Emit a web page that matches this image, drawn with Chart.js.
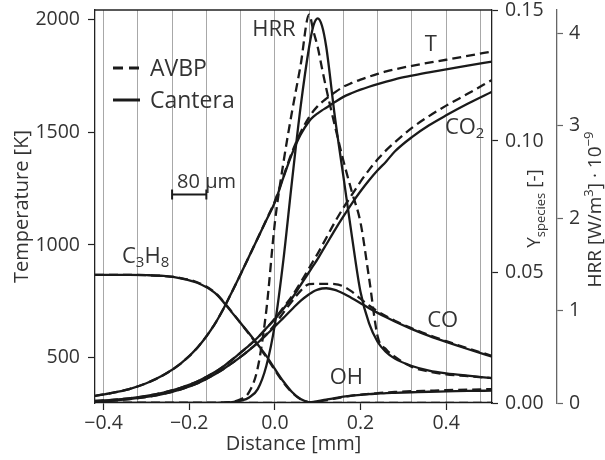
<!DOCTYPE html>
<html>
<head>
<meta charset="utf-8">
<script src="https://cdn.jsdelivr.net/npm/chart.js@4/dist/chart.umd.min.js"></script>
<style>
  html, body { margin: 0; padding: 0; background: #fff; }
  #wrap { width: 605px; height: 460px; }
</style>
</head>
<body>
<div id="wrap"><canvas id="flame" width="605" height="460"></canvas></div>
<script>
// Distance through the flame [mm]
const DIST = [-0.42, -0.38, -0.34, -0.30, -0.26, -0.22, -0.18, -0.14, -0.12, -0.10, -0.08, -0.06, -0.04, -0.02, 0.00, 0.02, 0.04, 0.06, 0.08, 0.09, 0.10, 0.11, 0.12, 0.14, 0.16, 0.18, 0.20, 0.22, 0.24, 0.26, 0.28, 0.32, 0.36, 0.40, 0.45, 0.507];

// Temperature [K]
const T_CANTERA = [330, 343, 360, 386, 422, 473, 546, 650, 717, 792, 870, 950, 1030, 1110, 1190, 1300, 1405, 1490, 1550, 1570, 1585, 1598, 1610, 1635, 1658, 1675, 1690, 1703, 1715, 1726, 1736, 1752, 1767, 1780, 1797, 1815];
const T_AVBP    = [330, 343, 360, 386, 422, 473, 546, 650, 717, 792, 870, 950, 1030, 1112, 1195, 1305, 1412, 1500, 1568, 1595, 1617, 1635, 1650, 1678, 1703, 1720, 1735, 1748, 1760, 1771, 1780, 1796, 1810, 1823, 1840, 1860];

// Species mass fractions [-]
const CO2_CANTERA = [0.0008, 0.0012, 0.0018, 0.0027, 0.0040, 0.0058, 0.0083, 0.0118, 0.0140, 0.0165, 0.0192, 0.0220, 0.0250, 0.0285, 0.0320, 0.0360, 0.0400, 0.0450, 0.0500, 0.0525, 0.0550, 0.0578, 0.0605, 0.0660, 0.0712, 0.0762, 0.0808, 0.0850, 0.0888, 0.0922, 0.0960, 0.1015, 0.1060, 0.1098, 0.1142, 0.1188];
const CO2_AVBP    = [0.0008, 0.0012, 0.0018, 0.0027, 0.0040, 0.0058, 0.0083, 0.0118, 0.0140, 0.0165, 0.0192, 0.0220, 0.0250, 0.0285, 0.0322, 0.0365, 0.0408, 0.0460, 0.0515, 0.0543, 0.0570, 0.0600, 0.0630, 0.0690, 0.0745, 0.0795, 0.0845, 0.0890, 0.0930, 0.0965, 0.0995, 0.1050, 0.1095, 0.1135, 0.1180, 0.1233];

const CO_CANTERA = [0.0005, 0.0009, 0.0015, 0.0023, 0.0035, 0.0052, 0.0076, 0.0110, 0.0130, 0.0152, 0.0176, 0.0202, 0.0230, 0.0260, 0.0292, 0.0325, 0.0358, 0.0390, 0.0415, 0.0426, 0.0433, 0.0437, 0.0438, 0.0432, 0.0418, 0.0400, 0.0381, 0.0362, 0.0344, 0.0327, 0.0311, 0.0282, 0.0256, 0.0233, 0.0206, 0.0177];
const CO_AVBP    = [0.0005, 0.0009, 0.0015, 0.0023, 0.0035, 0.0052, 0.0076, 0.0110, 0.0130, 0.0152, 0.0176, 0.0202, 0.0230, 0.0262, 0.0300, 0.0345, 0.0388, 0.0428, 0.0454, 0.0455, 0.0455, 0.0455, 0.0455, 0.0454, 0.0445, 0.0425, 0.0398, 0.0372, 0.0350, 0.0331, 0.0314, 0.0285, 0.0259, 0.0236, 0.0209, 0.0180];

const C3H8_CANTERA = [0.0489, 0.0489, 0.0489, 0.0488, 0.0485, 0.0476, 0.0458, 0.0420, 0.0385, 0.0345, 0.0305, 0.0265, 0.0223, 0.0180, 0.0130, 0.0082, 0.0042, 0.0015, 0.0002, 0, 0, 0, 0, 0, 0, 0, 0, 0, 0, 0, 0, 0, 0, 0, 0, 0];
const C3H8_AVBP    = [0.0489, 0.0489, 0.0489, 0.0488, 0.0485, 0.0477, 0.0460, 0.0422, 0.0387, 0.0347, 0.0305, 0.0263, 0.0220, 0.0175, 0.0125, 0.0078, 0.0040, 0.0014, 0.0002, 0, 0, 0, 0, 0, 0, 0, 0, 0, 0, 0, 0, 0, 0, 0, 0, 0];

const OH_CANTERA = [0, 0, 0, 0, 0, 0, 0, 0, 0, 0, 0, 0, 0, 0, 0, 0, 0, 0, 0.0002, 0.0004, 0.0007, 0.0010, 0.0013, 0.0019, 0.0024, 0.0028, 0.0031, 0.0034, 0.0036, 0.0038, 0.0039, 0.0041, 0.0043, 0.0044, 0.0046, 0.0047];
const OH_AVBP    = [0, 0, 0, 0, 0, 0, 0, 0, 0, 0, 0, 0, 0, 0, 0, 0, 0, 0, 0.0001, 0.0003, 0.0005, 0.0008, 0.0011, 0.0017, 0.0023, 0.0028, 0.0032, 0.0035, 0.0038, 0.0040, 0.0042, 0.0045, 0.0047, 0.0049, 0.0051, 0.0053];

// Heat release rate [W/m^3 * 1e-9]
const HRR_CANTERA = [0, 0, 0, 0, 0, 0, 0, 0, 0.005, 0.01, 0.025, 0.06, 0.15, 0.40, 0.85, 1.55, 2.40, 3.20, 3.85, 4.08, 4.16, 4.08, 3.85, 3.10, 2.45, 1.80, 1.20, 0.86, 0.66, 0.55, 0.48, 0.40, 0.35, 0.32, 0.295, 0.27];
const HRR_AVBP    = [0, 0, 0, 0, 0, 0, 0, 0, 0.005, 0.012, 0.04, 0.12, 0.38, 1.00, 1.95, 2.60, 3.15, 3.65, 4.20, 4.02, 3.85, 3.62, 3.40, 3.00, 2.62, 2.28, 1.95, 1.35, 0.72, 0.58, 0.50, 0.39, 0.34, 0.31, 0.29, 0.27];

// Axis ticks
const X_TICKS = [-0.4, -0.2, 0.0, 0.2, 0.4];
const X_GRID = [-0.40, -0.32, -0.24, -0.16, -0.08, 0.00, 0.08, 0.16, 0.24, 0.32, 0.40, 0.48];
const T_TICKS = [500, 1000, 1500, 2000];
const Y_TICKS = [0.00, 0.05, 0.10, 0.15];
const HRR_TICKS = [0, 1, 2, 3, 4];

// Models and the quantities drawn for each
const MODELS = [
  { name: 'AVBP', dash: [9, 5] },
  { name: 'Cantera', dash: [] }
];
const SERIES = [
  { axis: 'yT', AVBP: T_AVBP, Cantera: T_CANTERA },
  { axis: 'yS', AVBP: CO2_AVBP, Cantera: CO2_CANTERA },
  { axis: 'yS', AVBP: CO_AVBP, Cantera: CO_CANTERA },
  { axis: 'yS', AVBP: C3H8_AVBP, Cantera: C3H8_CANTERA },
  { axis: 'yS', AVBP: OH_AVBP, Cantera: OH_CANTERA },
  { axis: 'yH', AVBP: HRR_AVBP, Cantera: HRR_CANTERA }
];

// In-plot curve names, anchored in (distance, temperature) units
const CURVE_LABELS = [
  { parts: [['HRR', 0]], x: -0.002, t: 1955, align: 'center' },
  { parts: [['T', 0]], x: 0.364, t: 1888, align: 'center' },
  { parts: [['CO', 0], ['2', 1]], x: 0.397, t: 1520, align: 'left' },
  { parts: [['C', 0], ['3', 1], ['H', 0], ['8', 1]], x: -0.357, t: 947, align: 'left' },
  { parts: [['CO', 0]], x: 0.392, t: 662, align: 'center' },
  { parts: [['OH', 0]], x: 0.167, t: 409, align: 'center' }
];

// 80 µm scale bar between two grid lines
const SCALE_BAR = { from: -0.24, to: -0.16, t: 1224, text: '80 µm' };

const INK = '#1a1a1a';
const TEXT = '#333333';
const FAMILY = '"Open Sans", "Noto Sans", sans-serif';

const fmtMinus = s => s.replace('-', '\u2212');

const datasets = [];
for (const s of SERIES) {
  for (const m of MODELS) {
    datasets.push({
      label: m.name,
      data: DIST.map((d, i) => ({ x: d, y: s[m.name][i] })),
      yAxisID: s.axis,
      xAxisID: 'x',
      borderColor: INK,
      borderWidth: 2.3,
      borderDash: m.dash,
      pointRadius: 0,
      fill: false,
      cubicInterpolationMode: 'monotone'
    });
  }
}

const fixTicks = list => axis => { axis.ticks = list.map(v => ({ value: v })); };
// fixed box sizes so the plot area sits where it should
const sizeBox = (w, h) => ax => {
  if (w !== null) ax.width = w;
  if (h !== null) ax.height = h;
  ax.paddingTop = 0; ax.paddingBottom = 0; ax.paddingLeft = 0; ax.paddingRight = 0;
};

const frame = {
  id: 'frame',
  afterDatasetsDraw(chart) {
    const { ctx, chartArea: a } = chart;
    ctx.save();
    ctx.strokeStyle = '#222';
    ctx.lineWidth = 1.3;
    ctx.beginPath();
    ctx.moveTo(a.left, a.top);
    ctx.lineTo(a.right, a.top);
    ctx.stroke();
    ctx.restore();
  }
};

function drawParts(ctx, parts, px, py, align, size, subSize, subShift) {
  let w = 0;
  for (const [txt, sub] of parts) {
    ctx.font = `${sub ? subSize : size}px ${FAMILY}`;
    w += ctx.measureText(txt).width;
  }
  let cx = align === 'center' ? px - w / 2 : px;
  for (const [txt, sub] of parts) {
    ctx.font = `${sub ? subSize : size}px ${FAMILY}`;
    ctx.fillText(txt, cx, py + (sub ? subShift : 0));
    cx += ctx.measureText(txt).width;
  }
}

const annotations = {
  id: 'annotations',
  afterDraw(chart) {
    const { ctx, chartArea: a, scales: { x, yT } } = chart;
    ctx.save();
    ctx.fillStyle = TEXT;
    ctx.textAlign = 'left';
    ctx.textBaseline = 'middle';

    // curve names
    for (const lab of CURVE_LABELS) {
      drawParts(ctx, lab.parts, x.getPixelForValue(lab.x), yT.getPixelForValue(lab.t),
        lab.align, 22, 15, 6);
    }

    // legend
    const lx = a.left + 18, ly = a.top + 58;
    MODELS.forEach((m, i) => {
      const y = ly + i * 32;
      ctx.strokeStyle = INK;
      ctx.lineWidth = 3;
      ctx.setLineDash(m.dash.length ? [10, 6] : []);
      ctx.beginPath();
      ctx.moveTo(lx, y);
      ctx.lineTo(lx + 27, y);
      ctx.stroke();
      ctx.setLineDash([]);
      ctx.font = `23px ${FAMILY}`;
      ctx.fillText(m.name, lx + 37, y + 1);
    });

    // scale bar
    const bx0 = x.getPixelForValue(SCALE_BAR.from);
    const bx1 = x.getPixelForValue(SCALE_BAR.to);
    const by = yT.getPixelForValue(SCALE_BAR.t);
    ctx.strokeStyle = INK;
    ctx.lineWidth = 2;
    ctx.beginPath();
    ctx.moveTo(bx0, by); ctx.lineTo(bx1, by);
    ctx.moveTo(bx0, by - 5); ctx.lineTo(bx0, by + 5);
    ctx.moveTo(bx1, by - 5); ctx.lineTo(bx1, by + 5);
    ctx.stroke();
    ctx.font = `20px ${FAMILY}`;
    ctx.fillText(SCALE_BAR.text, bx0 + 5, by - 12);

    // right-hand axis titles, rotated, with sub/superscripts
    const midY = (a.top + a.bottom) / 2;
    ctx.textBaseline = 'alphabetic';
    ctx.save();
    ctx.translate(540, midY + 2);
    ctx.rotate(-Math.PI / 2);
    drawParts(ctx, [['Y', 0], ['species', 1], [' [-]', 0]], 0, 0, 'center', 19, 13, 5);
    ctx.restore();

    ctx.save();
    ctx.translate(601, midY + 3);
    ctx.rotate(-Math.PI / 2);
    drawParts(ctx, [['HRR [W/m', 0], ['3', 1], ['] \u00b7 10', 0], ['\u22129', 1]], 0, 0, 'center', 19, 13, -8);
    ctx.restore();

    ctx.restore();
  }
};

const tickFont = { family: FAMILY, size: 19.5 };
const titleFont = { family: FAMILY, size: 20 };

new Chart(document.getElementById('flame'), {
  type: 'line',
  data: { datasets },
  plugins: [frame, annotations],
  options: {
    responsive: false,
    animation: false,
    devicePixelRatio: 1,
    layout: { padding: { top: 10, left: 0, right: 0, bottom: 0 }, autoPadding: false },
    plugins: { legend: { display: false }, tooltip: { enabled: false } },
    elements: { line: { tension: 0 } },
    scales: {
      x: {
        type: 'linear', position: 'bottom', min: -0.42, max: 0.507,
        afterBuildTicks: fixTicks(X_TICKS),
        afterFit: sizeBox(null, 57),
        ticks: { autoSkip: false, maxRotation: 0, font: tickFont, color: TEXT, padding: 2,
                 callback: v => fmtMinus(Number(v).toFixed(1)) },
        grid: { drawOnChartArea: false, drawTicks: true, tickLength: 7, tickColor: '#222', tickWidth: 1.2 },
        border: { display: true, color: '#222', width: 1.3 },
        title: { display: true, text: 'Distance [mm]', font: titleFont, color: TEXT, padding: { top: 0, bottom: 4 } }
      },
      xGrid: {
        type: 'linear', position: 'bottom', min: -0.42, max: 0.507,
        afterBuildTicks: fixTicks(X_GRID),
        afterFit: sizeBox(null, 0),
        ticks: { display: false },
        grid: { drawOnChartArea: true, drawTicks: false, color: '#a8a8a8', lineWidth: 1 },
        border: { display: false }
      },
      yT: {
        type: 'linear', position: 'left', min: 298, max: 2044,
        afterBuildTicks: fixTicks(T_TICKS),
        afterFit: sizeBox(95, null),
        ticks: { font: tickFont, color: TEXT, padding: 8, callback: v => String(v) },
        grid: { drawOnChartArea: false, tickLength: 7, tickColor: '#222', tickWidth: 1.2 },
        border: { display: true, color: '#222', width: 1.3 },
        title: { display: true, text: 'Temperature [K]', font: titleFont, color: TEXT, padding: { top: 10, bottom: 0 } }
      },
      yS: {
        type: 'linear', position: 'right', weight: 0, min: 0, max: 0.15,
        afterBuildTicks: fixTicks(Y_TICKS),
        afterFit: sizeBox(65, null),
        ticks: { font: tickFont, color: TEXT, padding: 7, callback: v => Number(v).toFixed(2) },
        grid: { drawOnChartArea: false, tickLength: 6, tickColor: '#222', tickWidth: 1.2 },
        border: { display: true, color: '#222', width: 1.3 }
      },
      yH: {
        type: 'linear', position: 'right', weight: 1, min: 0, max: 4.25,
        afterBuildTicks: fixTicks(HRR_TICKS),
        afterFit: sizeBox(48, null),
        ticks: { font: tickFont, color: TEXT, padding: 6, callback: v => String(v) },
        grid: { drawOnChartArea: false, tickLength: 6, tickColor: '#666', tickWidth: 1.2 },
        border: { display: true, color: '#666', width: 1.3 }
      }
    }
  }
});
</script>
</body>
</html>
